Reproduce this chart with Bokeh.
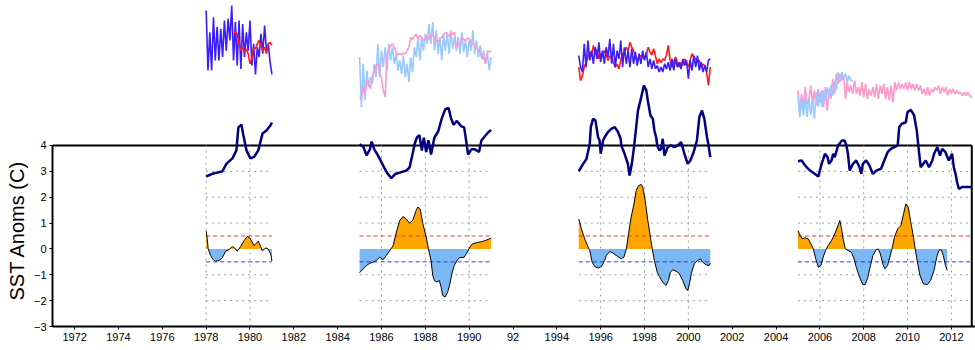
import math
import numpy as np
from bokeh.plotting import figure
from bokeh.models import Range1d, FixedTicker, Title
from bokeh.embed import file_html
from bokeh.resources import INLINE

# ---------------- data ----------------
win_start = [1978.0, 1985.0, 1995.0, 2005.0]
win_end = [1981.0, 1991.0, 2001.0, 2012.93]
grid_years = [[1978, 1980], [1986, 1988, 1990], [1996, 1998, 2000], [2006, 2008, 2010, 2012]]
grid_levels = [-2, -1, 1, 2, 3]
hi_thr = 0.5
lo_thr = -0.5
x_ticks = list(range(1972, 2013, 2))
x_tick_overrides = {1992: "92"}
y_ticks = [-3, -2, -1, 0, 1, 2, 3, 4]
y_title = "SST Anoms (C)"

# anomaly curves (filled)
anom1_yr = [1978.0, 1978.05, 1978.09, 1978.20, 1978.32, 1978.43, 1978.58, 1978.73, 1978.89, 1979.04,
            1979.19, 1979.30, 1979.42, 1979.57, 1979.73, 1979.88, 1980.0, 1980.18, 1980.38, 1980.49,
            1980.56, 1980.72, 1980.82, 1980.95, 1981.0]
anom1_val = [0.69, 0.40, 0.02, -0.25, -0.42, -0.47, -0.45, -0.35, -0.09, -0.03,
             0.09, 0.04, -0.09, 0.09, 0.32, 0.48, 0.42, 0.13, 0.30, 0.09,
             -0.07, 0.04, 0.0, -0.20, -0.47]

anom2_yr = [1985.0, 1985.17, 1985.32, 1985.47, 1985.62, 1985.77, 1985.92, 1986.07, 1986.22, 1986.38,
            1986.53, 1986.68, 1986.83, 1986.98, 1987.13, 1987.28, 1987.43, 1987.58, 1987.66, 1987.76,
            1987.89, 1988.04, 1988.14, 1988.26, 1988.34, 1988.41, 1988.53, 1988.64, 1988.72, 1988.79,
            1988.90, 1989.02, 1989.12, 1989.21, 1989.32, 1989.44, 1989.55, 1989.77, 1989.92, 1990.03,
            1990.15, 1990.38, 1990.60, 1990.75, 1990.90, 1991.0]
anom2_val = [-0.92, -0.77, -0.64, -0.55, -0.51, -0.45, -0.32, -0.42, -0.25, -0.06,
             0.13, 0.65, 1.10, 1.25, 1.16, 0.99, 1.12, 1.49, 1.62, 1.55,
             0.97, 0.45, 0.0, -0.45, -1.03, -1.22, -1.28, -1.22, -1.48, -1.80,
             -1.86, -1.67, -1.35, -0.96, -0.64, -0.45, -0.34, -0.32, -0.12, 0.07,
             0.20, 0.25, 0.29, 0.33, 0.38, 0.42]

anom3_yr = [1995.0, 1995.12, 1995.27, 1995.42, 1995.50, 1995.61, 1995.73, 1995.88, 1996.03, 1996.18,
            1996.26, 1996.41, 1996.56, 1996.71, 1996.94, 1997.06, 1997.17, 1997.27, 1997.39, 1997.52,
            1997.62, 1997.73, 1997.85, 1997.92, 1998.03, 1998.15, 1998.27, 1998.35, 1998.45, 1998.58,
            1998.68, 1998.83, 1998.98, 1999.09, 1999.18, 1999.29, 1999.44, 1999.59, 1999.74, 1999.89,
            1999.97, 2000.05, 2000.15, 2000.27, 2000.42, 2000.55, 2000.65, 2000.80, 2000.95, 2001.0]
anom3_val = [1.16, 0.78, 0.39, 0.09, -0.06, -0.51, -0.68, -0.74, -0.68, -0.45,
             -0.25, -0.10, -0.16, -0.25, -0.38, -0.32, 0.0, 0.58, 1.23, 1.74,
             2.26, 2.45, 2.49, 2.39, 1.87, 1.10, 0.45, 0.0, -0.45, -0.90,
             -1.07, -1.29, -1.41, -1.22, -0.90, -0.81, -0.86, -0.96, -1.22, -1.54,
             -1.61, -1.35, -0.90, -0.58, -0.45, -0.38, -0.51, -0.61, -0.64, -0.55]

anom4_yr = [2005.0, 2005.10, 2005.20, 2005.32, 2005.47, 2005.59, 2005.70, 2005.81, 2005.93, 2006.05,
            2006.15, 2006.26, 2006.38, 2006.53, 2006.68, 2006.83, 2006.91, 2006.98, 2007.06, 2007.16,
            2007.28, 2007.43, 2007.56, 2007.66, 2007.81, 2007.96, 2008.07, 2008.19, 2008.31, 2008.42,
            2008.57, 2008.67, 2008.76, 2008.87, 2008.97, 2009.09, 2009.21, 2009.29, 2009.40, 2009.55,
            2009.70, 2009.82, 2009.92, 2010.03, 2010.15, 2010.27, 2010.35, 2010.45, 2010.57, 2010.72,
            2010.90, 2011.05, 2011.21, 2011.33, 2011.43, 2011.54, 2011.63, 2011.73, 2011.81]
anom4_val = [0.71, 0.52, 0.39, 0.43, 0.39, 0.20, 0.0, -0.38, -0.71, -0.64,
             -0.32, -0.06, 0.13, 0.32, 0.58, 0.91, 1.10, 0.82, 0.39, 0.0,
             -0.06, -0.12, -0.38, -0.71, -1.09, -1.38, -1.38, -1.09, -0.64, -0.25,
             -0.03, 0.0, -0.19, -0.58, -0.77, -0.64, -0.25, 0.0, 0.45, 0.78,
             0.91, 1.36, 1.74, 1.62, 1.03, 0.45, 0.0, -0.51, -1.03, -1.35,
             -1.38, -1.22, -0.83, -0.32, -0.06, -0.03, -0.25, -0.64, -0.83]

# navy index lines
navy1_yr = [1978.0, 1978.33, 1978.74, 1978.93, 1979.20, 1979.38, 1979.47, 1979.61, 1979.70, 1979.84,
            1980.02, 1980.20, 1980.38, 1980.57, 1980.75, 1980.93, 1981.0]
navy1_val = [2.80, 2.92, 3.00, 3.30, 3.50, 3.81, 4.70, 4.81, 4.39, 3.81,
             3.50, 3.57, 3.81, 4.46, 4.58, 4.77, 4.89]

navy2_yr = [1985.0, 1985.17, 1985.32, 1985.47, 1985.55, 1985.67, 1985.85, 1986.07, 1986.27, 1986.45,
            1986.63, 1986.90, 1987.13, 1987.28, 1987.40, 1987.51, 1987.61, 1987.73, 1987.84, 1987.93,
            1988.04, 1988.14, 1988.26, 1988.41, 1988.59, 1988.75, 1988.91, 1989.06, 1989.17, 1989.29,
            1989.44, 1989.62, 1989.77, 1989.86, 1989.95, 1990.10, 1990.26, 1990.45, 1990.56, 1990.71,
            1990.86, 1991.0]
navy2_val = [4.05, 3.95, 3.62, 3.85, 4.15, 3.85, 3.60, 3.23, 2.92, 2.74,
             2.90, 2.97, 3.03, 3.15, 3.60, 4.05, 4.30, 4.40, 3.80, 4.30,
             3.75, 4.20, 3.65, 4.30, 4.55, 5.05, 5.40, 5.45, 5.05, 4.80,
             4.95, 4.75, 4.70, 4.20, 3.65, 3.85, 3.85, 3.75, 4.20, 4.35,
             4.50, 4.60]

navy3_yr = [1995.0, 1995.20, 1995.35, 1995.50, 1995.55, 1995.65, 1995.76, 1995.88, 1995.95, 1996.0,
            1996.11, 1996.18, 1996.33, 1996.48, 1996.64, 1996.79, 1996.91, 1996.94, 1997.09, 1997.24,
            1997.32, 1997.42, 1997.52, 1997.62, 1997.70, 1997.85, 1997.97, 1998.08, 1998.15, 1998.27,
            1998.38, 1998.45, 1998.53, 1998.58, 1998.68, 1998.76, 1998.83, 1998.91, 1999.06, 1999.21,
            1999.36, 1999.52, 1999.67, 1999.82, 1999.97, 2000.09, 2000.24, 2000.39, 2000.50, 2000.62,
            2000.73, 2000.85, 2000.91, 2001.0]
navy3_val = [3.01, 3.29, 3.48, 4.06, 4.71, 5.03, 4.97, 4.32, 4.19, 3.68,
             4.19, 4.32, 4.52, 4.64, 4.71, 4.52, 4.26, 4.00, 3.68, 3.29,
             2.84, 3.29, 3.94, 4.71, 5.35, 5.87, 6.32, 6.13, 5.74, 5.16,
             5.03, 4.58, 4.32, 4.00, 3.81, 3.87, 4.26, 3.61, 3.94, 4.00,
             3.94, 4.00, 4.13, 3.68, 3.29, 3.42, 3.74, 4.19, 5.09, 5.35,
             5.03, 4.32, 4.06, 3.55]

navy4_yr = [2005.0, 2005.17, 2005.32, 2005.55, 2005.78, 2005.93, 2006.08, 2006.23, 2006.35, 2006.42,
            2006.53, 2006.61, 2006.68, 2006.83, 2007.01, 2007.13, 2007.21, 2007.28, 2007.36, 2007.51,
            2007.66, 2007.81, 2007.89, 2007.96, 2008.11, 2008.26, 2008.42, 2008.57, 2008.79, 2008.94,
            2009.09, 2009.24, 2009.40, 2009.55, 2009.62, 2009.74, 2009.92, 2010.0, 2010.15, 2010.30,
            2010.42, 2010.53, 2010.60, 2010.72, 2010.83, 2010.98, 2011.13, 2011.21, 2011.36, 2011.48,
            2011.58, 2011.73, 2011.88, 2012.03, 2012.11, 2012.19, 2012.26, 2012.34, 2012.49, 2012.64,
            2012.93]
navy4_val = [3.39, 3.42, 3.23, 3.03, 2.90, 2.80, 3.29, 3.68, 3.55, 3.29,
             3.42, 3.68, 3.55, 4.00, 4.19, 4.19, 4.00, 3.68, 3.03, 3.29,
             3.42, 3.16, 2.90, 3.29, 3.42, 3.23, 2.90, 3.03, 3.10, 3.42,
             3.74, 3.87, 3.94, 4.00, 4.71, 4.84, 4.90, 5.29, 5.38, 5.16,
             4.58, 3.68, 3.16, 3.29, 3.42, 3.16, 3.42, 3.68, 3.94, 3.61,
             3.87, 3.74, 3.42, 3.68, 3.16, 2.90, 2.58, 2.32, 2.39, 2.39,
             2.39]

# monthly top series (plotted in chart units)
top1_start = 1978.0
top1_blue = [9.22, 6.90, 8.38, 6.90, 8.96, 7.29, 8.58, 7.29, 8.51, 7.42,
             8.83, 7.67, 8.90, 8.06, 9.41, 7.29, 8.77, 7.09, 8.83, 6.96,
             8.70, 7.42, 8.38, 7.67, 8.83, 7.09, 7.93, 6.75, 7.80, 7.42,
             8.32, 7.55, 8.64, 7.67, 7.93, 7.22, 6.75]
top1_red_start = 1979.25
top1_red = [8.32, 8.38, 8.32, 7.93, 7.67, 7.80, 7.61, 7.74, 7.55, 7.16,
            7.35, 7.80, 7.74, 7.93, 8.06, 7.87, 7.67, 7.80, 7.55, 7.93,
            7.99, 7.87]

top2_start = 1985.0
top2_lblue = [7.42, 5.48, 7.16, 5.74, 6.90, 6.26, 6.64, 6.40, 7.16, 6.64,
              7.93, 6.64, 7.67, 7.03, 7.80, 6.90, 7.93, 7.29, 7.80, 7.16,
              7.54, 6.90, 7.29, 6.77, 7.48, 6.64, 7.16, 6.45, 7.42, 6.84,
              7.80, 7.42, 8.19, 7.29, 8.19, 7.67, 8.32, 7.93, 8.70, 7.93,
              8.77, 7.67, 8.45, 7.54, 8.19, 7.29, 8.32, 7.67, 8.38, 7.54,
              8.45, 7.74, 8.19, 7.67, 8.19, 7.54, 8.38, 7.61, 8.06, 7.42,
              8.06, 7.67, 8.45, 7.54, 8.06, 7.42, 7.87, 7.35, 7.67, 7.16,
              7.54, 6.90, 7.42]
top2_pink = [5.87, 5.80, 6.26, 6.00, 6.51, 6.40, 6.19, 6.70, 6.84, 7.10,
             7.16, 6.77, 6.60, 6.13, 5.87, 7.54, 7.70, 7.87, 7.93, 7.80,
             7.61, 7.50, 7.56, 7.50, 7.58, 7.54, 7.67, 7.80, 8.19, 8.10,
             8.25, 8.30, 8.12, 8.25, 8.19, 8.06, 8.15, 8.25, 8.10, 8.32,
             8.25, 8.19, 8.10, 8.00, 8.12, 8.19, 8.30, 8.38, 8.32, 8.22,
             8.38, 8.30, 8.38, 7.80, 7.90, 7.93, 8.19, 8.10, 8.06, 8.15,
             8.12, 8.00, 7.93, 7.85, 7.80, 7.70, 7.61, 7.35, 7.40, 7.16,
             7.67, 7.61, 7.65]

top3_start = 1995.0
top3_blue = [7.48, 7.03, 6.84, 7.93, 7.03, 8.06, 7.29, 7.67, 7.16, 7.80,
             7.35, 7.99, 7.22, 7.67, 7.16, 7.80, 7.42, 8.12, 7.16, 7.93,
             7.03, 7.67, 7.35, 8.06, 7.03, 7.80, 7.16, 7.67, 7.03, 7.74,
             7.16, 7.61, 7.09, 7.55, 7.16, 7.67, 7.29, 7.61, 7.03, 7.35,
             6.96, 7.29, 6.96, 7.09, 6.84, 7.03, 6.84, 7.16, 6.96, 7.22,
             6.90, 7.35, 6.90, 7.35, 7.03, 7.22, 6.96, 7.35, 7.09, 7.29,
             6.58, 7.29, 6.90, 7.48, 7.03, 7.48, 6.90, 7.22, 6.84, 7.09,
             6.84, 7.29, 7.35]
top3_red = [7.03, 6.51, 6.70, 7.03, 7.22, 7.42, 7.61, 7.45, 7.87, 7.55,
            7.70, 7.35, 7.55, 7.48, 7.67, 7.50, 7.29, 7.45, 7.42, 7.20,
            7.03, 7.15, 6.96, 7.30, 7.55, 7.60, 7.80, 7.65, 7.99, 7.80,
            7.67, 7.45, 7.29, 7.40, 7.48, 7.40, 7.35, 7.55, 7.80, 7.61,
            7.50, 7.74, 7.45, 7.16, 7.35, 7.20, 7.35, 7.29, 7.50, 7.87,
            7.30, 7.03, 7.25, 7.42, 7.20, 7.03, 7.22, 7.10, 7.35, 7.20,
            7.03, 7.30, 7.55, 7.40, 7.35, 7.22, 7.30, 7.03, 7.15, 7.09,
            6.84, 6.32, 7.03]

top4_start = 2005.0
top4_pink = [6.13, 5.35, 6.00, 5.48, 6.26, 5.61, 5.74, 6.32, 5.61, 6.13,
             5.55, 6.19, 5.67, 6.13, 5.48, 6.26, 5.35, 6.19, 5.80, 6.58,
             6.00, 6.77, 6.38, 6.77, 6.51, 6.71, 5.80, 6.45, 6.06, 6.32,
             6.00, 6.51, 6.00, 6.26, 5.93, 6.45, 5.87, 6.38, 5.80, 6.19,
             5.93, 6.26, 5.87, 6.38, 5.80, 6.32, 6.00, 6.38, 5.80, 6.26,
             5.74, 6.32, 5.67, 6.45, 6.13, 6.45, 6.19, 6.38, 6.19, 6.45,
             6.13, 6.45, 6.19, 6.38, 6.13, 6.38, 6.13, 6.32, 6.00, 6.19,
             5.93, 6.26, 5.93, 6.19, 6.06, 6.26, 6.13, 6.32, 6.00, 6.26,
             6.06, 6.26, 5.93, 6.19, 6.00, 6.19, 6.00, 6.13, 6.00, 6.06,
             5.93, 6.06, 5.93, 6.06, 5.93, 5.85]
top4_lblue = [5.93, 5.10, 5.80, 5.16, 5.87, 5.10, 5.87, 5.16, 5.80, 5.03,
              6.06, 5.48, 6.06, 5.48, 6.13, 5.74, 6.26, 5.87, 6.32, 5.93,
              6.51, 6.13, 6.84, 6.45, 6.84, 6.64, 6.77, 6.45, 6.71, 6.51,
              6.51]

# ---------------- styles ----------------
C_ORANGE = "#ffa500"
C_LBLUEFILL = "#7ab8f5"
C_NAVY = "#000080"
C_BLUE = "#3b1cff"
C_RED = "#ff1a1a"
C_LBLUE = "#99c8ff"
C_PINK = "#ff99cc"
FONT = "Liberation Sans"

X0, X1 = 1970.99, 2013.10
p = figure(width=975, height=350, x_range=Range1d(X0, X1), y_range=Range1d(-3, 9.607),
           output_backend="svg", toolbar_location=None,
           min_border_left=52, min_border_right=0, min_border_top=0, min_border_bottom=24)
p.outline_line_color = None
p.xgrid.visible = False
p.ygrid.visible = False
p.background_fill_color = "white"
p.border_fill_color = "white"

# axes
p.xaxis.ticker = FixedTicker(ticks=x_ticks)
p.xaxis.major_label_overrides = x_tick_overrides
p.yaxis.ticker = FixedTicker(ticks=y_ticks)
p.yaxis.bounds = (-3, 4)
for ax in (p.xaxis[0], p.yaxis[0]):
    ax.axis_line_width = 2
    ax.axis_line_color = "black"
    ax.major_tick_out = 3
    ax.major_tick_in = 0
    ax.minor_tick_line_color = None
    ax.major_tick_line_color = "black"
    ax.major_label_text_font = FONT
    ax.major_label_text_font_size = "11px"
    ax.major_label_text_color = "black"
    ax.major_label_standoff = 3

p.add_layout(Title(text=y_title, align="left", offset=26, standoff=5,
                   text_font=FONT, text_font_size="20px", text_font_style="normal",
                   text_color="black"), "left")

# frame top and right border of the framed region
right_x = win_end[-1]
p.line([X0, right_x], [4, 4], line_color="black", line_width=2)
p.line([right_x, right_x], [-3, 4], line_color="black", line_width=2)

# per-window grid and threshold lines
gx0, gy0, gx1, gy1 = [], [], [], []
for s, e, yrs in zip(win_start, win_end, grid_years):
    for yy in yrs:
        gx0.append(yy); gx1.append(yy); gy0.append(-3); gy1.append(4)
    for lv in grid_levels:
        gx0.append(s); gx1.append(e); gy0.append(lv); gy1.append(lv)
p.segment(gx0, gy0, gx1, gy1, line_color="#9a9a9a", line_width=1, line_dash="2 4")


def split(x, v):
    xs, vs = [x[0]], [v[0]]
    for i in range(1, len(x)):
        a, b = v[i - 1], v[i]
        if (a > 0 > b) or (a < 0 < b):
            t = a / (a - b)
            xs.append(x[i - 1] + t * (x[i] - x[i - 1]))
            vs.append(0.0)
        xs.append(x[i]); vs.append(b)
    vs = np.array(vs)
    return np.array(xs), np.maximum(vs, 0), np.minimum(vs, 0)


anoms = [(anom1_yr, anom1_val), (anom2_yr, anom2_val), (anom3_yr, anom3_val), (anom4_yr, anom4_val)]
for (ax_, av), s, e in zip(anoms, win_start, win_end):
    xs, pos, neg = split(ax_, av)
    p.varea(x=xs, y1=0, y2=pos, fill_color=C_ORANGE)
    p.varea(x=xs, y1=0, y2=neg, fill_color=C_LBLUEFILL)
    p.line([s, e], [hi_thr, hi_thr], line_color="#e83a3a", line_width=1, line_dash="4 3")
    p.line([s, e], [lo_thr, lo_thr], line_color="#2a3de8", line_width=1, line_dash="4 3")
    p.line(ax_, av, line_color="black", line_width=1)

for nx, nv in [(navy1_yr, navy1_val), (navy2_yr, navy2_val), (navy3_yr, navy3_val), (navy4_yr, navy4_val)]:
    p.line(nx, nv, line_color=C_NAVY, line_width=2.5)


def months(start, vals):
    return [start + i / 12.0 for i in range(len(vals))]


p.line(months(top2_start, top2_lblue), top2_lblue, line_color=C_LBLUE, line_width=1.6)
p.line(months(top2_start, top2_pink), top2_pink, line_color=C_PINK, line_width=1.6)
p.line(months(top4_start, top4_pink), top4_pink, line_color=C_PINK, line_width=1.6)
p.line(months(top4_start, top4_lblue), top4_lblue, line_color=C_LBLUE, line_width=1.6)
p.line(months(top1_start, top1_blue), top1_blue, line_color=C_BLUE, line_width=1.6)
p.line(months(top1_red_start, top1_red), top1_red, line_color=C_RED, line_width=1.6)
p.line(months(top3_start, top3_red), top3_red, line_color=C_RED, line_width=1.6)
p.line(months(top3_start, top3_blue), top3_blue, line_color=C_BLUE, line_width=1.6)

open("out.html", "w").write(file_html(p, INLINE))
